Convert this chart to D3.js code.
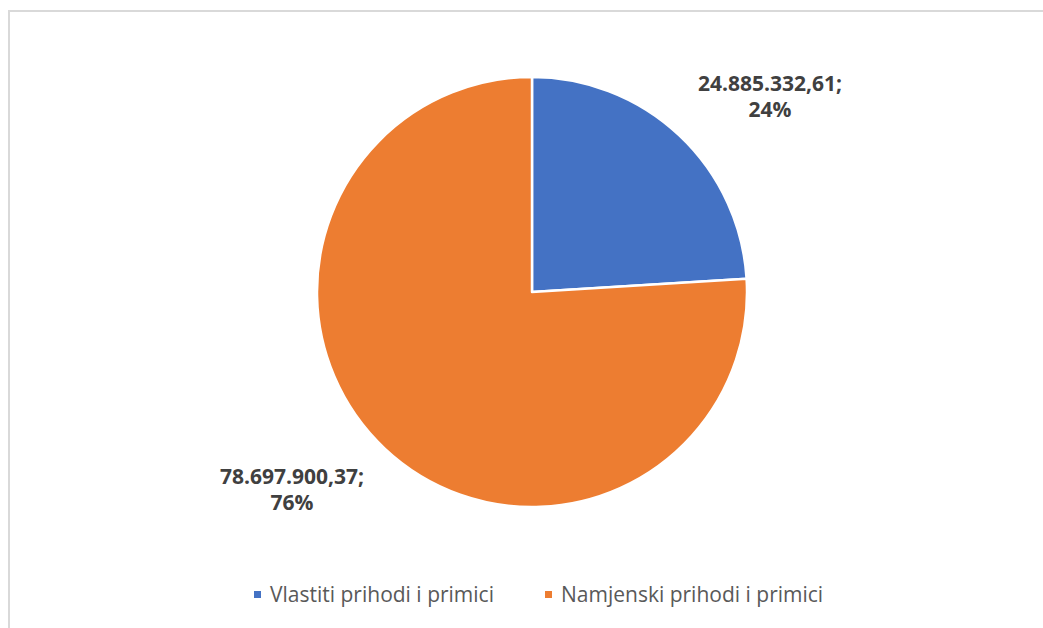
<!DOCTYPE html>
<html><head><meta charset="utf-8">
<script src="https://cdn.jsdelivr.net/npm/d3@7"></script>
<style>body{margin:0;background:#fff}svg{display:block}</style>
</head><body>
<svg id="c" width="1043" height="628"></svg>
<script>
const categories = ["Vlastiti prihodi i primici", "Namjenski prihodi i primici"];
const values = [24885332.61, 78697900.37];
const valueLabels = ["24.885.332,61;", "78.697.900,37;"];
const percentLabels = ["24%", "76%"];
const colors = ["#4472C4", "#ED7D31"];

const svg = d3.select("#c");
svg.append("rect").attr("x", 9).attr("y", 11).attr("width", 1100).attr("height", 700)
  .attr("fill", "none").attr("stroke", "#d9d9d9").attr("stroke-width", 2);

const cx = 532, cy = 292, R = 215;
const pie = d3.pie().sort(null).value(d => d)(values);
const arc = d3.arc().innerRadius(0).outerRadius(R);
const g = svg.append("g").attr("transform", `translate(${cx},${cy})`);
g.selectAll("path").data(pie).join("path")
  .attr("d", arc).attr("fill", (d, i) => colors[i])
  .attr("stroke", "#fff").attr("stroke-width", 2.5).attr("stroke-linejoin", "round");

const labelPos = [[770, 91], [292, 484]];
labelPos.forEach((p, i) => {
  const t = svg.append("text").attr("x", p[0]).attr("y", p[1])
    .attr("text-anchor", "middle").attr("font-family", "'Open Sans', sans-serif")
    .attr("font-weight", "bold").attr("font-size", 21).attr("fill", "#404040");
  t.append("tspan").attr("x", p[0]).text(valueLabels[i]);
  t.append("tspan").attr("x", p[0]).attr("dy", 26).text(percentLabels[i]);
});

const legendX = [254, 545];
categories.forEach((c, i) => {
  svg.append("rect").attr("x", legendX[i]).attr("y", 591).attr("width", 7).attr("height", 7).attr("fill", colors[i]);
  svg.append("text").attr("x", legendX[i] + 16).attr("y", 602)
    .attr("font-family", "'Open Sans', sans-serif").attr("font-size", 21).attr("fill", "#595959")
    .text(c);
});
</script>
</body></html>
